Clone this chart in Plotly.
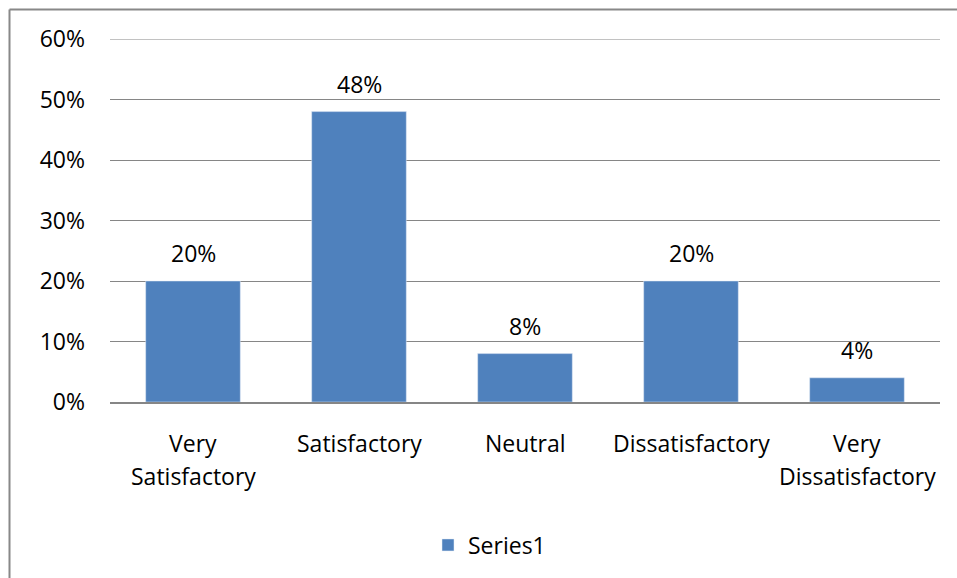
import plotly.graph_objects as go

categories = ["Very Satisfactory", "Satisfactory", "Neutral", "Dissatisfactory", "Very Dissatisfactory"]
label_lines = [["Very", "Satisfactory"], ["Satisfactory"], ["Neutral"], ["Dissatisfactory"], ["Very", "Dissatisfactory"]]
values = [0.20, 0.48, 0.08, 0.20, 0.04]
series_name = "Series1"

FONT = "Open Sans"
FS = 23
BAR = "#4F81BD"
GRID = "#868686"

fig = go.Figure()
fig.add_trace(go.Bar(x=categories, y=values, name=series_name, marker_color=BAR,
                     width=0.57, showlegend=True))

annotations = []
for c, v in zip(categories, values):
    annotations.append(dict(x=c, y=v, xref="x", yref="y", text=f"{round(v*100)}%",
                            showarrow=False, yanchor="middle", yshift=28,
                            font=dict(family=FONT, size=FS, color="#000")))
for c, lines in zip(categories, label_lines):
    for i, ln in enumerate(lines):
        annotations.append(dict(x=c, y=0, xref="x", yref="paper", text=ln,
                                showarrow=False, yanchor="middle", yshift=-41 - 33 * i,
                                font=dict(family=FONT, size=FS, color="#000")))

L, R, T, B = 110, 17, 39, 176
W, H = 957, 578
pw, ph = W - L - R, H - T - B

def px(xp):
    return (xp - L) / pw

def py(yp):
    return (H - B - yp) / ph

shapes = [
    dict(type="line", xref="paper", yref="paper", x0=px(9.5), x1=px(990), y0=py(9.5), y1=py(9.5),
         line=dict(color="#888888", width=2)),
    dict(type="line", xref="paper", yref="paper", x0=px(9.5), x1=px(9.5), y0=py(9.5), y1=py(620),
         line=dict(color="#888888", width=2)),
    dict(type="line", xref="paper", yref="y", x0=0, x1=1, y0=0.6, y1=0.6,
         line=dict(color=GRID, width=1), layer="below"),
]

fig.update_layout(
    width=W, height=H,
    margin=dict(l=L, r=R, t=T, b=B),
    paper_bgcolor="white", plot_bgcolor="white",
    font=dict(family=FONT, size=FS, color="#000"),
    bargap=0.43,
    xaxis=dict(showticklabels=False, showline=True, linecolor=GRID, linewidth=2,
               showgrid=False, ticks="", fixedrange=True),
    yaxis=dict(range=[0, 0.6], dtick=0.1, tickformat=".0%", showgrid=True,
               gridcolor=GRID, gridwidth=1, zeroline=False, showline=False,
               ticks="", ticklabelstandoff=24, fixedrange=True),
    legend=dict(orientation="h", x=px(428), xanchor="left", y=py(545), yanchor="middle",
                font=dict(family=FONT, size=FS), bgcolor="rgba(0,0,0,0)"),
    annotations=annotations,
    shapes=shapes,
)

fig.write_html("out.html")
